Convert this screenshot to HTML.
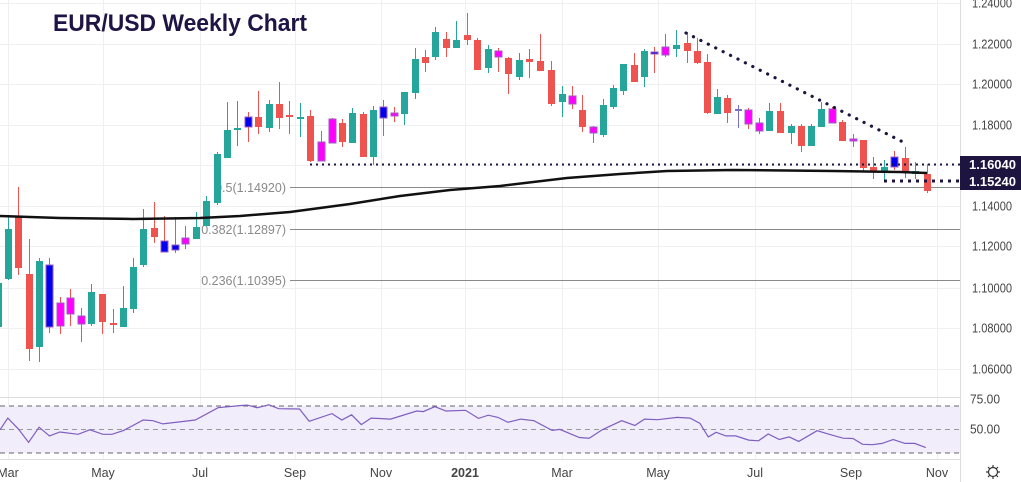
<!DOCTYPE html>
<html><head><meta charset="utf-8"><style>
html,body{margin:0;padding:0;background:#fff;}
body{width:1021px;height:482px;overflow:hidden;position:relative;font-family:"Liberation Sans",sans-serif;}
svg{position:absolute;left:0;top:0;}
</style></head><body>
<svg id="s" width="1021" height="482" viewBox="0 0 1021 482" xmlns="http://www.w3.org/2000/svg">
<g id="grid" stroke="#f0f0f3" stroke-width="1"></g>
<rect x="0" y="406" width="960" height="47" fill="#f1edfb"/>
<line x1="0" y1="406" x2="960" y2="406" stroke="#666" stroke-dasharray="5,4"/>
<line x1="0" y1="429.5" x2="960" y2="429.5" stroke="#999" stroke-dasharray="5,4"/>
<line x1="0" y1="453" x2="960" y2="453" stroke="#666" stroke-dasharray="5,4"/>
<line x1="0" y1="397.5" x2="960" y2="397.5" stroke="#ddd"/>
<line x1="0" y1="459.5" x2="960" y2="459.5" stroke="#ddd"/>
<line x1="960.5" y1="0" x2="960.5" y2="482" stroke="#ddd"/>
<line x1="290" y1="187.5" x2="960" y2="187.5" stroke="#8a8a8a"/>
<line x1="290" y1="229.5" x2="960" y2="229.5" stroke="#8a8a8a"/>
<line x1="290" y1="280.5" x2="960" y2="280.5" stroke="#8a8a8a"/>
<g font-size="12.5" fill="#8a8a8a" text-anchor="end">
<text x="286" y="192">0.5(1.14920)</text>
<text x="286" y="234">0.382(1.12897)</text>
<text x="286" y="285">0.236(1.10395)</text>
</g>
<g id="candles"></g>
<polyline fill="none" stroke="#111" stroke-width="2.5" points="0,216 60,218 133,219 200,218 240,216 290,212 350,204 400,196 450,190 500,186 567,178 620,174 667,171 733,170 833,171 900,172 927,173"/>
<line x1="310" y1="164.5" x2="960" y2="164.5" stroke="#1e1440" stroke-width="2" stroke-dasharray="2,4"/>
<line x1="884" y1="181" x2="960" y2="181" stroke="#1e1440" stroke-width="3" stroke-dasharray="3,5"/>
<line x1="686" y1="33" x2="905" y2="143" stroke="#1e1440" stroke-width="3.2" stroke-dasharray="0.1,8.2" stroke-linecap="round"/>
<polyline id="rsi" fill="none" stroke="#7e5fbf" stroke-width="1.2"/>
<g font-size="12.5" fill="#444" id="ax"></g>
<rect x="960" y="156" width="61" height="17" fill="#1e1440"/>
<rect x="960" y="173" width="61" height="17" fill="#1e1440"/>
<g font-size="13" font-weight="bold" fill="#fff">
<text x="969" y="169" textLength="47" lengthAdjust="spacingAndGlyphs">1.16040</text>
<text x="969" y="186" textLength="47" lengthAdjust="spacingAndGlyphs">1.15240</text>
</g>
<text x="53" y="31" font-size="24" font-weight="bold" fill="#1e1445" textLength="254" lengthAdjust="spacingAndGlyphs">EUR/USD Weekly Chart</text>
<g transform="translate(993,472)" fill="none" stroke="#333" stroke-width="1.2">
<circle r="4.5"/>
<path d="M0,-7V-5M0,5V7M-7,0H-5M5,0H7M-5,-5L-3.5,-3.5M5,5L3.5,3.5M-5,5L-3.5,3.5M5,-5L3.5,-3.5"/>
</g>
</svg>
<script>
var NS="http://www.w3.org/2000/svg";
function el(p,t,a){var e=document.createElementNS(NS,t);for(var k in a)e.setAttribute(k,a[k]);p.appendChild(e);return e;}
var g=document.getElementById('grid');
[3,44,84,125,165,206,246,288,328,369].forEach(function(y){el(g,'line',{x1:0,y1:y+.5,x2:960,y2:y+.5});});
var mx=[[8,"Mar"],[103,"May"],[200,"Jul"],[295,"Sep"],[381,"Nov"],[465,"2021"],[562,"Mar"],[658,"May"],[755,"Jul"],[851,"Sep"],[937,"Nov"]];
mx.forEach(function(m){el(g,'line',{x1:m[0]+.5,y1:0,x2:m[0]+.5,y2:460});});
var ax=document.getElementById('ax');
[[3,"1.24000"],[44,"1.22000"],[84,"1.20000"],[125,"1.18000"],[206,"1.14000"],[246,"1.12000"],[288,"1.10000"],[328,"1.08000"],[369,"1.06000"],[399,"75.00"],[429,"50.00"]].forEach(function(a){var L=a[1].length>5;var t=el(ax,'text',{x:L?972:970,y:a[0]+4.5,textLength:L?40:30,lengthAdjust:'spacingAndGlyphs'});t.textContent=a[1];});
mx.forEach(function(m){var t=el(ax,'text',{x:m[0],y:477,'text-anchor':'middle'});if(m[1]=="2021")t.setAttribute('font-weight','bold');t.textContent=m[1];});
var T="#26a69a",R="#ef5350",B="#0000ee",M="#ff00ff";
var C=[
[-2,283,327,280,330,T],[8,229,279,215,280,T],[18,216,268,187,275,R],[29,274,349,239,361,R],[39,261,347,258,362,T],[49,265,327,258,333,B],
[60,303,326,297,334,M],[70,298,314,289,326,M],[81,316,324,308,342,M],[91,292,324,284,326,T],[102,294,322,294,334,R],[113,323,325,309,333,R],
[123,308,327,286,327,T],[133,267,309,258,313,T],[143,229,265,209,267,T],[154,228,237,202,243,R],[164,241,252,216,252,B],[175,245,250,217,253,B],
[185,238,244,226,249,M],[196,227,239,212,239,T],[206,201,226,196,226,T],[217,154,203,152,205,T],[227,130,158,102,158,T],[237,128,130,101,146,T],
[248,117,127,112,142,B],[258,117,127,91,134,R],[269,104,128,100,132,T],[279,104,118,82,129,R],[289,115,117,101,134,R],[300,117,119,103,137,T],
[310,116,161,110,162,R],[321,142,161,131,161,M],[332,119,143,118,143,M],[342,123,142,119,147,R],[352,113,143,108,143,T],[363,114,157,112,157,R],
[373,110,157,106,165,T],[383,107,118,100,136,B],[394,113,116,107,122,M],[404,92,114,92,125,T],[415,59,93,48,99,T],[425,57,63,50,72,R],
[435,32,57,27,60,T],[446,39,48,32,57,R],[456,40,48,21,48,T],[467,35,40,13,45,R],[477,40,70,38,70,R],[488,49,68,45,73,T],
[498,51,57,48,72,M],[508,58,74,57,94,R],[519,60,77,53,80,T],[529,59,62,49,78,R],[540,61,71,34,71,R],[551,70,104,61,106,R],
[562,94,102,86,117,T],[572,96,104,86,109,M],[582,110,127,95,132,R],[593,127,133,126,143,M],[603,105,135,99,137,T],[613,88,107,85,109,T],
[623,64,91,64,95,T],[634,65,82,53,82,R],[644,51,77,49,87,T],[654,52,54,47,73,B],[665,47,55,34,57,M],[676,45,49,30,57,T],
[687,43,51,32,63,R],[697,51,63,38,64,R],[707,62,113,54,114,R],[717,97,114,89,114,T],[727,98,113,95,123,R],[738,109,111,105,128,"#7a70c8"],
[748,110,124,108,129,M],[759,123,131,118,134,M],[769,111,131,103,131,T],[780,111,133,103,133,R],[791,126,133,124,144,T],[801,126,146,124,152,R],
[811,126,146,124,146,T],[821,109,127,102,127,T],[832,109,123,107,123,M],[842,122,141,120,141,R],[853,139,141,134,147,M],[863,140,168,140,172,R],
[873,167,172,157,179,R],[884,167,172,160,181,T],[894,157,167,151,170,B],[905,158,173,147,178,R],[915,171,174,162,179,T],[927,174,191,164,193,R]];
var cg=document.getElementById('candles');
C.forEach(function(c){var sp=(c[5]==M||c[5]==B);var wc=sp?R:c[5];
el(cg,'line',{x1:c[0]+.5,y1:c[3],x2:c[0]+.5,y2:c[4],stroke:wc,'stroke-width':1});
el(cg,'rect',{x:c[0]-3,y:c[1],width:7,height:Math.max(2,c[2]-c[1]),fill:c[5],stroke:sp?"#9a5cc0":"none",'stroke-width':sp?1:0});});
var P=[[0,598],[12,562],[28,595],[44,637],[60,590],[76,617],[92,605],[120,612],[138,598],[158,612],[172,612],[190,600],[220,568],[235,570],[250,580],[300,568],[335,530],[370,523],[380,522],[395,530],[413,521],[428,533],[460,534],[475,572],[510,548],[525,568],[540,552],[555,582],[570,562],[600,565],[640,540],[650,542],[668,527],[685,540],[715,538],[735,563],[750,553],[765,560],[780,575],[800,565],[820,570],[848,600],[860,597],[890,622],[905,624],[925,598],[955,570],[975,585],[990,565],[1010,567],[1040,560],[1060,562],[1075,578],[1088,620],[1100,606],[1115,617],[1130,617],[1150,630],[1165,632],[1180,611],[1197,628],[1212,620],[1227,634],[1255,601],[1275,613],[1295,624],[1310,625],[1325,643],[1340,644],[1355,640],[1372,628],[1390,640],[1405,640],[1422,653]];
document.getElementById('rsi').setAttribute('points',P.map(function(p){return (p[0]/1.536).toFixed(1)+","+(236+p[1]*0.324).toFixed(1);}).join(" "));
</script>
</body></html>
